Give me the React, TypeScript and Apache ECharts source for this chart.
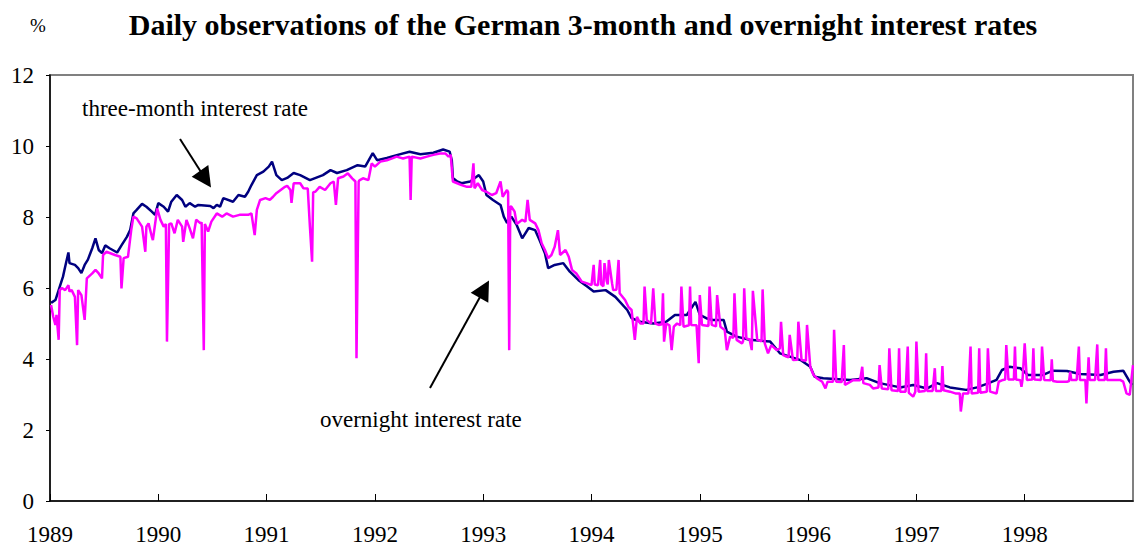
import React, { useEffect, useRef } from "react";
import * as echarts from "echarts";

// decimal-year dates and rates (%)
const threeMonthDates = [
  1989.01, 1989.05, 1989.08, 1989.12, 1989.14, 1989.17, 1989.18, 1989.23, 1989.26, 1989.29,
  1989.32, 1989.35, 1989.39, 1989.42, 1989.45, 1989.48, 1989.51, 1989.55, 1989.62, 1989.66,
  1989.71, 1989.74, 1989.77, 1989.8, 1989.85, 1989.89, 1989.94, 1989.97, 1990.0, 1990.05,
  1990.09, 1990.12, 1990.17, 1990.22, 1990.25, 1990.29, 1990.34, 1990.37, 1990.48, 1990.51,
  1990.54, 1990.57, 1990.6, 1990.69, 1990.74, 1990.8, 1990.83, 1990.86, 1990.91, 1990.97,
  1991.02, 1991.05, 1991.09, 1991.14, 1991.19, 1991.25, 1991.31, 1991.4, 1991.52, 1991.59,
  1991.65, 1991.74, 1991.84, 1991.91, 1991.98, 1992.02, 1992.11, 1992.21, 1992.32, 1992.42,
  1992.54, 1992.63, 1992.69, 1992.71, 1992.72, 1992.76, 1992.8, 1992.88, 1992.96, 1993.0,
  1993.03, 1993.09, 1993.16, 1993.19, 1993.22, 1993.26, 1993.31, 1993.36, 1993.42, 1993.48,
  1993.52, 1993.57, 1993.6, 1993.66, 1993.74, 1993.8, 1993.88, 1993.96, 1994.02, 1994.13,
  1994.22, 1994.33, 1994.37, 1994.45, 1994.57, 1994.69, 1994.77, 1994.88, 1994.96, 1995.0,
  1995.06, 1995.12, 1995.22, 1995.25, 1995.34, 1995.46, 1995.65, 1995.74, 1995.93, 1996.02,
  1996.06, 1996.14, 1996.39, 1996.54, 1996.66, 1996.85, 1996.97, 1997.1, 1997.19, 1997.31,
  1997.46, 1997.56, 1997.65, 1997.74, 1997.79, 1997.86, 1997.96, 1998.03, 1998.17, 1998.26,
  1998.39, 1998.51, 1998.7, 1998.82, 1998.91, 1998.96, 1998.99,
];
const threeMonthRates = [
  5.58, 5.66, 5.94, 6.32, 6.6, 7.0, 6.7, 6.65, 6.56, 6.42,
  6.65, 6.8, 7.12, 7.4, 7.07, 6.98, 7.2, 7.12, 7.0, 7.2,
  7.44, 7.63, 8.1, 8.2, 8.37, 8.29, 8.15, 8.06, 8.39, 8.29,
  8.15, 8.43, 8.62, 8.48, 8.29, 8.39, 8.29, 8.34, 8.31, 8.25,
  8.34, 8.29, 8.53, 8.43, 8.62, 8.57, 8.71, 8.9, 9.18, 9.28,
  9.42, 9.56, 9.18, 9.04, 9.1, 9.24, 9.18, 9.04, 9.18, 9.32,
  9.24, 9.32, 9.46, 9.42, 9.8, 9.6, 9.66, 9.75, 9.84, 9.77,
  9.81, 9.9, 9.84, 9.6, 9.1, 9.0, 8.95, 9.0, 9.18, 9.0,
  8.62, 8.48, 8.34, 8.01, 7.83, 8.01, 7.77, 7.4, 7.69, 7.63,
  7.35, 6.98, 6.56, 6.65, 6.7, 6.46, 6.22, 6.04, 5.9, 5.94,
  5.75, 5.38, 5.15, 5.05, 5.0, 5.05, 5.24, 5.24, 5.61, 5.24,
  5.15, 5.1, 5.1, 4.77, 4.63, 4.54, 4.49, 4.16, 3.97, 3.78,
  3.5, 3.46, 3.41, 3.46, 3.32, 3.2, 3.27, 3.17, 3.32, 3.2,
  3.13, 3.2, 3.3, 3.41, 3.69, 3.78, 3.74, 3.55, 3.55, 3.67,
  3.66, 3.58, 3.55, 3.64, 3.67, 3.41, 3.27,
];

const overnightDates = [
  1989.01, 1989.03, 1989.05, 1989.06, 1989.08, 1989.09, 1989.11, 1989.14, 1989.17, 1989.18,
  1989.2, 1989.23, 1989.25, 1989.26, 1989.29, 1989.32, 1989.34, 1989.39, 1989.42, 1989.45,
  1989.48, 1989.49, 1989.52, 1989.6, 1989.65, 1989.66, 1989.68, 1989.72, 1989.75, 1989.77,
  1989.8, 1989.85, 1989.88, 1989.89, 1989.91, 1989.94, 1989.95, 1989.99, 1990.02, 1990.05,
  1990.07, 1990.08, 1990.1, 1990.12, 1990.15, 1990.18, 1990.22, 1990.23, 1990.26, 1990.29,
  1990.32, 1990.35, 1990.39, 1990.4, 1990.42, 1990.43, 1990.46, 1990.49, 1990.54, 1990.59,
  1990.63, 1990.69, 1990.75, 1990.83, 1990.86, 1990.89, 1990.91, 1990.94, 1990.99, 1991.03,
  1991.06, 1991.09, 1991.17, 1991.19, 1991.22, 1991.23, 1991.25, 1991.31, 1991.34, 1991.38,
  1991.4, 1991.42, 1991.43, 1991.45, 1991.49, 1991.54, 1991.59, 1991.62, 1991.64, 1991.66,
  1991.71, 1991.75, 1991.79, 1991.82, 1991.83, 1991.85, 1991.86, 1991.89, 1991.94, 1991.97,
  1992.0, 1992.05, 1992.11, 1992.16, 1992.2, 1992.26, 1992.32, 1992.33, 1992.34, 1992.42,
  1992.48, 1992.54, 1992.6, 1992.65, 1992.68, 1992.7, 1992.72, 1992.76, 1992.8, 1992.85,
  1992.89, 1992.91, 1992.92, 1992.95, 1992.99, 1993.03, 1993.08, 1993.12, 1993.16, 1993.18,
  1993.22, 1993.23, 1993.24, 1993.25, 1993.26, 1993.29, 1993.31, 1993.36, 1993.39, 1993.41,
  1993.43, 1993.48, 1993.51, 1993.54, 1993.57, 1993.6, 1993.63, 1993.66, 1993.69, 1993.71,
  1993.76, 1993.79, 1993.82, 1993.86, 1993.91, 1993.96, 1994.0, 1994.02, 1994.03, 1994.06,
  1994.08, 1994.09, 1994.11, 1994.12, 1994.14, 1994.15, 1994.16, 1994.19, 1994.2, 1994.23,
  1994.25, 1994.26, 1994.31, 1994.34, 1994.37, 1994.4, 1994.42, 1994.45, 1994.48, 1994.49,
  1994.51, 1994.55, 1994.57, 1994.59, 1994.62, 1994.65, 1994.66, 1994.67, 1994.69, 1994.72,
  1994.74, 1994.76, 1994.79, 1994.82, 1994.83, 1994.85, 1994.9, 1994.91, 1994.92, 1994.97,
  1994.99, 1995.0, 1995.02, 1995.08, 1995.09, 1995.11, 1995.15, 1995.16, 1995.19, 1995.23,
  1995.25, 1995.28, 1995.31, 1995.32, 1995.34, 1995.39, 1995.4, 1995.41, 1995.43, 1995.46,
  1995.48, 1995.49, 1995.53, 1995.57, 1995.58, 1995.6, 1995.63, 1995.66, 1995.71, 1995.74,
  1995.75, 1995.77, 1995.8, 1995.82, 1995.83, 1995.86, 1995.9, 1995.91, 1995.94, 1995.98,
  1995.99, 1996.02, 1996.05, 1996.08, 1996.13, 1996.16, 1996.18, 1996.23, 1996.24, 1996.26,
  1996.31, 1996.33, 1996.34, 1996.42, 1996.48, 1996.5, 1996.51, 1996.57, 1996.6, 1996.65,
  1996.66, 1996.68, 1996.74, 1996.75, 1996.77, 1996.83, 1996.84, 1996.85, 1996.9, 1996.92,
  1996.93, 1996.97, 1996.99, 1997.0, 1997.02, 1997.08, 1997.09, 1997.1, 1997.15, 1997.17,
  1997.18, 1997.23, 1997.24, 1997.25, 1997.31, 1997.36, 1997.4, 1997.41, 1997.43, 1997.48,
  1997.5, 1997.51, 1997.57, 1997.58, 1997.59, 1997.65, 1997.66, 1997.68, 1997.74, 1997.76,
  1997.8, 1997.82, 1997.83, 1997.85, 1997.9, 1997.91, 1997.92, 1997.96, 1997.97, 1997.98,
  1998.0, 1998.02, 1998.07, 1998.08, 1998.09, 1998.15, 1998.16, 1998.18, 1998.24, 1998.25,
  1998.26, 1998.3, 1998.39, 1998.41, 1998.42, 1998.43, 1998.48, 1998.5, 1998.51, 1998.56,
  1998.57, 1998.59, 1998.6, 1998.65, 1998.67, 1998.68, 1998.74, 1998.75, 1998.76, 1998.88,
  1998.91, 1998.94, 1998.97, 1999.0,
];
const overnightRates = [
  5.52, 5.19, 4.96, 5.24, 4.54, 5.94, 6.0, 5.94, 6.08, 5.9,
  5.94, 5.75, 4.39, 5.94, 5.8, 5.1, 6.27, 6.41, 6.51, 6.41,
  6.27, 6.93, 7.02, 6.93, 6.88, 5.99, 6.84, 6.88, 7.63, 8.01,
  7.96, 7.73, 7.02, 7.73, 7.82, 7.45, 7.35, 8.24, 7.92, 7.73,
  7.8, 4.49, 7.8, 7.82, 7.54, 7.92, 7.73, 7.3, 7.92, 7.68,
  7.4, 7.92, 7.82, 7.85, 4.25, 7.8, 7.59, 7.87, 8.1, 8.01,
  8.1, 8.01, 8.06, 8.06, 8.1, 7.49, 8.2, 8.48, 8.53, 8.48,
  8.57, 8.67, 8.85, 8.88, 8.76, 8.4, 8.95, 8.95, 8.81, 8.8,
  7.73, 6.74, 8.7, 8.71, 8.85, 8.76, 8.95, 9.0, 8.34, 9.09,
  9.14, 9.23, 9.09, 9.0, 4.02, 9.0, 9.04, 9.09, 9.04, 9.51,
  9.42, 9.56, 9.6, 9.65, 9.7, 9.65, 9.7, 8.48, 9.7, 9.65,
  9.7, 9.75, 9.79, 9.79, 9.7, 9.75, 9.0, 8.95, 8.9, 8.85,
  8.85, 9.51, 8.81, 8.95, 8.76, 8.71, 8.62, 8.67, 9.0, 8.57,
  8.76, 8.7, 4.25, 8.3, 8.29, 8.15, 7.8, 7.92, 7.87, 8.48,
  7.92, 7.82, 7.63, 7.26, 7.07, 6.84, 6.93, 7.16, 7.63, 6.93,
  7.07, 6.88, 6.51, 6.41, 6.18, 6.13, 6.08, 6.65, 6.1, 6.08,
  6.79, 6.1, 6.05, 6.7, 6.2, 6.1, 6.79, 6.13, 5.94, 5.95,
  6.79, 5.85, 5.66, 5.47, 5.38, 4.54, 5.19, 5.0, 5.0, 6.04,
  5.1, 5.0, 5.99, 5.0, 4.96, 4.98, 5.85, 4.49, 5.0, 4.95,
  4.25, 4.91, 5.0, 4.95, 6.04, 4.91, 4.95, 6.04, 4.96, 4.95,
  3.88, 5.8, 4.96, 4.93, 6.04, 4.96, 4.92, 5.8, 4.91, 4.82,
  4.25, 4.63, 4.6, 5.85, 4.54, 4.44, 4.5, 5.99, 4.58, 4.55,
  4.25, 5.92, 4.54, 4.5, 5.96, 4.44, 4.16, 4.39, 4.25, 4.3,
  5.05, 4.11, 4.07, 4.05, 4.68, 3.97, 3.98, 5.05, 3.97, 3.95,
  4.96, 3.78, 3.55, 3.46, 3.36, 3.17, 3.36, 3.36, 4.82, 3.36,
  3.35, 4.39, 3.27, 3.41, 3.4, 3.78, 3.32, 3.27, 3.17, 3.2,
  3.83, 3.17, 3.15, 4.3, 3.12, 3.1, 4.3, 3.08, 3.08, 4.35,
  3.05, 2.94, 3.08, 4.49, 3.08, 3.1, 4.16, 3.1, 3.1, 3.74,
  3.1, 3.1, 3.8, 3.12, 3.08, 3.03, 3.03, 2.52, 3.03, 3.03,
  4.35, 3.03, 3.05, 4.3, 3.05, 3.08, 4.3, 3.08, 3.03, 3.36,
  3.41, 3.42, 4.39, 3.42, 3.42, 4.35, 3.42, 3.4, 3.22, 3.42,
  4.44, 3.41, 3.42, 4.3, 3.42, 3.41, 4.35, 3.41, 3.4, 3.99,
  3.38, 3.36, 3.36, 3.38, 3.64, 3.41, 3.41, 4.35, 3.41, 3.41,
  2.75, 4.05, 3.41, 3.41, 4.41, 3.41, 3.41, 4.3, 3.41, 3.41,
  3.36, 3.03, 2.99, 3.83,
];

const yearTicks = [1989, 1990, 1991, 1992, 1993, 1994, 1995, 1996, 1997, 1998];

const FONT = '"Times New Roman", "Liberation Serif", serif';

export default function App() {
  const ref = useRef<HTMLDivElement>(null);

  useEffect(() => {
    if (!ref.current) return;
    const chart = echarts.init(ref.current, undefined, { renderer: "svg" });
    const zip = (xs: number[], ys: number[]) => xs.map((x, i) => [x, ys[i]]);

    chart.setOption({
      animation: false,
      backgroundColor: "#ffffff",
      grid: {
        left: 50,
        right: 1,
        top: 75,
        bottom: 49,
        show: true,
        borderColor: "#808080",
        borderWidth: 2,
        backgroundColor: "transparent",
      },
      xAxis: {
        type: "value",
        min: yearTicks[0],
        max: yearTicks[yearTicks.length - 1] + 1,
        interval: 1,
        axisLine: { show: true, lineStyle: { color: "#000", width: 1.5 } },
        axisTick: { show: true, inside: true, length: 7, lineStyle: { color: "#000", width: 1 } },
        axisLabel: {
          color: "#000",
          fontFamily: FONT,
          fontSize: 23,
          margin: 22,
          showMaxLabel: false,
          formatter: (v: number) => (yearTicks.includes(v) ? String(v) : ""),
        },
        splitLine: { show: false },
      },
      yAxis: {
        type: "value",
        min: 0,
        max: 12,
        interval: 2,
        axisLine: { show: true, lineStyle: { color: "#000", width: 1.5 } },
        axisTick: { show: true, inside: false, length: 4, lineStyle: { color: "#000", width: 1 } },
        axisLabel: { color: "#000", fontFamily: FONT, fontSize: 23, margin: 16 },
        splitLine: { show: false },
      },
      series: [
        {
          name: "three-month interest rate",
          type: "line",
          data: zip(threeMonthDates, threeMonthRates),
          showSymbol: false,
          symbol: "none",
          lineStyle: { color: "#000080", width: 2.5 },
          z: 2,
        },
        {
          name: "overnight interest rate",
          type: "line",
          data: zip(overnightDates, overnightRates),
          showSymbol: false,
          symbol: "none",
          lineStyle: { color: "#ff00ff", width: 2.5 },
          z: 3,
        },
      ],
      graphic: [
        {
          type: "text",
          x: 583,
          y: 24,
          style: {
            text: "Daily observations of the German 3-month and overnight interest rates",
            font: `bold 30px ${FONT}`,
            fill: "#000",
            align: "center",
            verticalAlign: "middle",
          },
        },
        {
          type: "text",
          x: 38,
          y: 25,
          style: { text: "%", font: `19px ${FONT}`, fill: "#000", align: "center", verticalAlign: "middle" },
        },
        {
          type: "text",
          x: 82,
          y: 108,
          style: { text: "three-month interest rate", font: `23px ${FONT}`, fill: "#000", align: "left", verticalAlign: "middle" },
        },
        {
          type: "text",
          x: 320,
          y: 419,
          style: { text: "overnight interest rate", font: `23px ${FONT}`, fill: "#000", align: "left", verticalAlign: "middle" },
        },
        {
          type: "line",
          shape: { x1: 180, y1: 139, x2: 201, y2: 172 },
          style: { stroke: "#000", lineWidth: 2 },
          z: 10,
        },
        {
          type: "polygon",
          shape: { points: [[191.7, 176.7], [208.3, 165], [211, 187.5]] },
          style: { fill: "#000" },
          z: 10,
        },
        {
          type: "line",
          shape: { x1: 430, y1: 388, x2: 480, y2: 297 },
          style: { stroke: "#000", lineWidth: 2 },
          z: 10,
        },
        {
          type: "polygon",
          shape: { points: [[470.7, 292.7], [489, 280.5], [488.3, 302.7]] },
          style: { fill: "#000" },
          z: 10,
        },
      ],
    });

    return () => chart.dispose();
  }, []);

  return (
    <div
      ref={ref}
      style={{ position: "absolute", left: 0, top: 0, width: 1134, height: 550, background: "#fff" }}
    />
  );
}
